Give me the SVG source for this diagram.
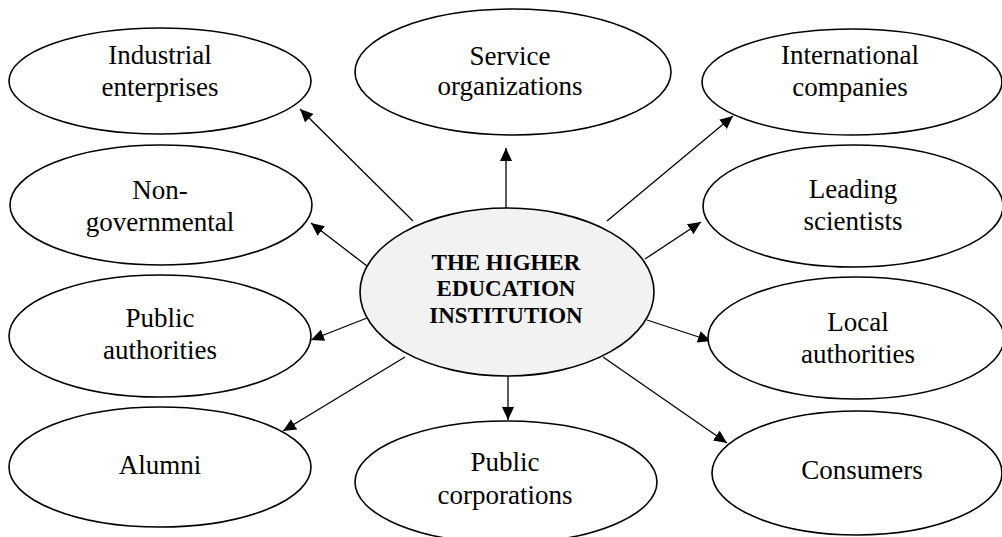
<svg xmlns="http://www.w3.org/2000/svg" width="1002" height="537" viewBox="0 0 1002 537">
<style>
.n{fill:#fff;stroke:#000;stroke-width:1.6}
.c{fill:#f2f2f2;stroke:#000;stroke-width:1.6}
.t{font-family:'Liberation Serif','Times New Roman',Times,serif;font-size:27px;fill:#000;text-anchor:middle}
.b{font-family:'Liberation Serif','Times New Roman',Times,serif;font-size:23px;font-weight:bold;fill:#000;text-anchor:middle}
.e{stroke:#000;stroke-width:1.3;fill:none;marker-end:url(#ah)}
</style>
<defs>
<marker id="ah" markerUnits="userSpaceOnUse" markerWidth="14" markerHeight="12" refX="13" refY="6" orient="auto">
<path d="M0,0 L13,6 L0,12 z" fill="#000"/>
</marker>
</defs>
<g id="connectors">
<line class="e" x1="413" y1="221" x2="300" y2="109"/>
<line class="e" x1="506" y1="208" x2="506" y2="148"/>
<line class="e" x1="607" y1="221" x2="733" y2="116"/>
<line class="e" x1="367" y1="266" x2="311" y2="223"/>
<line class="e" x1="367" y1="318" x2="311" y2="340"/>
<line class="e" x1="405" y1="357" x2="283" y2="431"/>
<line class="e" x1="508" y1="376" x2="508" y2="420"/>
<line class="e" x1="645" y1="259" x2="701" y2="222"/>
<line class="e" x1="647" y1="320" x2="711" y2="341"/>
<line class="e" x1="603" y1="357" x2="727" y2="443"/>
</g>
<g id="industrial">
<ellipse class="n" cx="160" cy="81" rx="151" ry="53"/>
<text class="t" x="160" y="64">Industrial</text>
<text class="t" x="160" y="96">enterprises</text>
</g>
<g id="service">
<ellipse class="n" cx="513" cy="72" rx="158" ry="63"/>
<text class="t" x="510" y="65">Service</text>
<text class="t" x="510" y="95">organizations</text>
</g>
<g id="international">
<ellipse class="n" cx="852" cy="82" rx="150" ry="53"/>
<text class="t" x="850" y="64">International</text>
<text class="t" x="850" y="96">companies</text>
</g>
<g id="nongovernmental">
<ellipse class="n" cx="161" cy="205" rx="151" ry="60"/>
<text class="t" x="160" y="199">Non-</text>
<text class="t" x="160" y="231">governmental</text>
</g>
<g id="leading">
<ellipse class="n" cx="853" cy="206" rx="150" ry="61"/>
<text class="t" x="853" y="198">Leading</text>
<text class="t" x="853" y="230">scientists</text>
</g>
<g id="center">
<ellipse class="c" cx="507" cy="292" rx="147" ry="84"/>
<text class="b" x="506" y="270">THE HIGHER</text>
<text class="b" x="506" y="296">EDUCATION</text>
<text class="b" x="506" y="323">INSTITUTION</text>
</g>
<g id="publicauth">
<ellipse class="n" cx="160" cy="336" rx="151" ry="61"/>
<text class="t" x="160" y="327">Public</text>
<text class="t" x="160" y="359">authorities</text>
</g>
<g id="localauth">
<ellipse class="n" cx="856" cy="338" rx="148" ry="61"/>
<text class="t" x="858" y="331">Local</text>
<text class="t" x="858" y="363">authorities</text>
</g>
<g id="alumni">
<ellipse class="n" cx="160" cy="467" rx="151" ry="60"/>
<text class="t" x="160" y="474">Alumni</text>
</g>
<g id="publiccorp">
<ellipse class="n" cx="506" cy="482" rx="151" ry="61"/>
<text class="t" x="505" y="471">Public</text>
<text class="t" x="505" y="504">corporations</text>
</g>
<g id="consumers">
<ellipse class="n" cx="857" cy="473" rx="145" ry="62"/>
<text class="t" x="862" y="479">Consumers</text>
</g>
</svg>
